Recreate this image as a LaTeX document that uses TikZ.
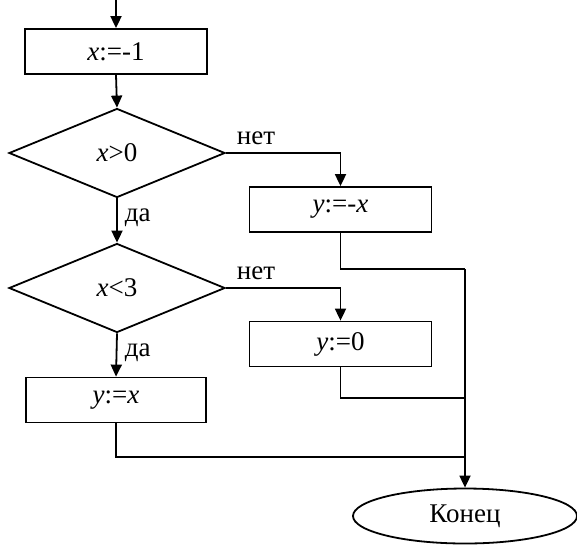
\documentclass[tikz,border=0pt]{standalone}
\usepackage{fontspec}
\setmainfont{Liberation Serif}
\usetikzlibrary{shapes.geometric,arrows.meta}
\begin{document}
\begin{tikzpicture}[x=1pt,y=-1pt,
  line width=1.8pt,
  every node/.style={font=\fontsize{27}{30}\selectfont},
  proc/.style={draw,rectangle,inner sep=0pt,minimum width=#1,minimum height=45pt},
  proc/.default=182pt,
  dec/.style={draw,diamond,inner sep=0pt,minimum width=216pt,minimum height=89pt},
  term/.style={draw,ellipse,inner sep=0pt,minimum width=224pt,minimum height=55pt},
  lbl/.style={font=\fontsize{27}{30}\selectfont,inner sep=0pt},
  arr/.style={-{Triangle[length=12pt,width=11pt]}}]
\useasboundingbox (0,0) rectangle (577,544);
\coordinate (start) at (116,0);
\node[proc] (b1) at (116,51.5) {\textit{x}:=-1};
\node[dec] (d1) at (117,153) {\textit{x}>0};
\node[proc] (b2) at (340.5,209.5) {\textit{y}:=-\textit{x}};
\node[dec] (d2) at (117,288) {\textit{x}<3};
\node[proc] (b3) at (340.5,344) {\textit{y}:=0};
\node[proc=180pt] (b4) at (116,400) {\textit{y}:=\textit{x}};
\node[term] (end) at (465,516) {Конец};
\coordinate (j1) at (465,269);
\coordinate (j2) at (465,398);
\coordinate (j3) at (465,457);
\draw[arr] (start) -- (b1.north);
\draw[arr] (b1.south) -- (d1.north);
\draw[arr] (d1.east) -| (b2.north);
\node[lbl,anchor=south west] at (236,146) {нет};
\draw[arr] (d1.south) -- (d2.north);
\node[lbl,anchor=west] at (124,218) {да};
\draw[arr] (d2.east) -| (b3.north);
\node[lbl,anchor=south west] at (236,281) {нет};
\draw[arr] (d2.south) -- (b4.north);
\node[lbl,anchor=west] at (124,353) {да};
\draw (b2.south) |- (j1);
\draw (b3.south) |- (j2);
\draw (b4.south) |- (j3);
\draw[arr] (j1) -- (end.north);
\end{tikzpicture}
\end{document}
